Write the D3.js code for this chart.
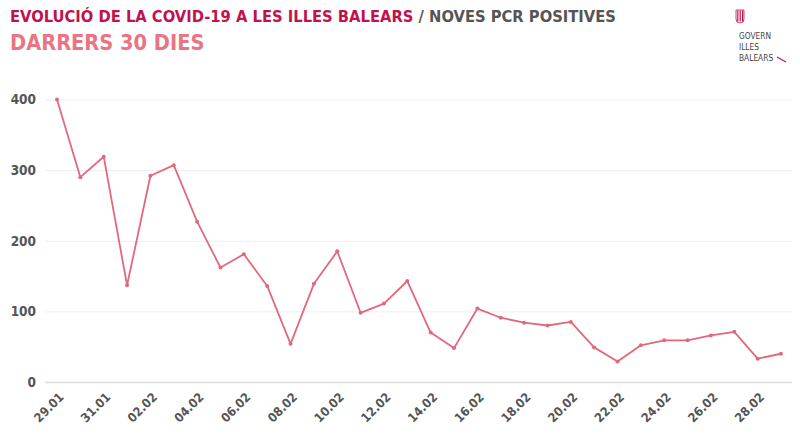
<!DOCTYPE html>
<html><head><meta charset="utf-8">
<script src="https://cdn.jsdelivr.net/npm/d3@7"></script>
<style>body{margin:0;background:#fff}svg{display:block}</style>
</head><body>
<svg id="c" width="800" height="436"></svg>
<script>
const dates = ["29.01","30.01","31.01","01.02","02.02","03.02","04.02","05.02","06.02","07.02","08.02","09.02","10.02","11.02","12.02","13.02","14.02","15.02","16.02","17.02","18.02","19.02","20.02","21.02","22.02","23.02","24.02","25.02","26.02","27.02","28.02","01.03"];
const values = [400,290,319,137,292,307,227,162,181,136,54,139,185,98,111,143,70,48,104,91,84,80,85,49,29,52,59,59,66,71,33,40];
const yTicks = [0,100,200,300,400];
const tickLabels = ["29.01","31.01","02.02","04.02","06.02","08.02","10.02","12.02","14.02","16.02","18.02","20.02","22.02","24.02","26.02","28.02"];

const svg = d3.select("#c");
const font = "'DejaVu Sans Condensed','DejaVu Sans',sans-serif";
const x = d3.scalePoint().domain(dates).range([57,781]);
const y = d3.scaleLinear().domain([0,400]).range([382,99.5]);

// title
const t1 = svg.append("text").attr("x",10).attr("y",21.5).attr("font-family",font).attr("font-weight","bold").attr("font-size",16.4);
t1.append("tspan").attr("fill","#c0134e").text("EVOLUCIÓ DE LA COVID-19 A LES ILLES BALEARS");
t1.append("tspan").attr("fill","#555").text(" / NOVES PCR POSITIVES");
svg.append("text").attr("x",10).attr("y",49.5).attr("font-family",font).attr("font-weight","bold").attr("font-size",21.6).attr("fill","#ea7582").text("DARRERS 30 DIES");

// logo
const lg = svg.append("g");
lg.append("path").attr("d","M736,10 h8 v9 q0,4 -4,4 q-4,0 -4,-4 z").attr("fill","none").attr("stroke","#c0134e").attr("stroke-width",0.8);
[0,1,2].forEach(i=>{
  lg.append("rect").attr("x",737.2+i*2.4).attr("y",10.5).attr("width",1.2).attr("height",11).attr("fill","#c0134e");
});
["GOVERN","ILLES","BALEARS"].forEach((s,i)=>{
  lg.append("text").attr("x",739).attr("y",39+i*11).attr("font-family",font).attr("font-size",8.3).attr("fill","#444").text(s);
});
lg.append("line").attr("x1",777).attr("y1",57).attr("x2",786).attr("y2",62).attr("stroke","#c0134e").attr("stroke-width",1.1);

// grid
const gAxis = d3.axisLeft(y).tickValues(yTicks).tickSize(-(792-45)).tickPadding(9);
const ga = svg.append("g").attr("transform","translate(45,0)").call(gAxis);
ga.select(".domain").remove();
ga.selectAll(".tick line").attr("stroke",d=>d===0?"#dcdcdc":"#eeeeee").attr("stroke-width",d=>d===0?1.6:1);
ga.selectAll(".tick text").attr("font-family",font).attr("font-weight","bold").attr("font-size",13.5).attr("fill","#555");

// x axis
const xa = svg.append("g").attr("transform","translate(0,382)").call(d3.axisBottom(x).tickValues(tickLabels).tickSize(0).tickPadding(0));
xa.select(".domain").remove();
xa.selectAll(".tick text")
  .attr("font-family",font).attr("font-weight","bold").attr("font-size",12.5).attr("fill","#555")
  .attr("text-anchor","end").attr("dy",0).attr("y",0)
  .attr("transform","translate(7,16) rotate(-45)");

// line
const line = d3.line().x((d,i)=>x(dates[i])).y(d=>y(d));
svg.append("path").datum(values).attr("d",line).attr("fill","none").attr("stroke","#e2697c").attr("stroke-width",1.8).attr("stroke-linejoin","round");
svg.selectAll("circle.pt").data(values).join("circle").attr("class","pt")
  .attr("cx",(d,i)=>x(dates[i])).attr("cy",d=>y(d)).attr("r",2).attr("fill","#e2697c");
</script>
</body></html>
